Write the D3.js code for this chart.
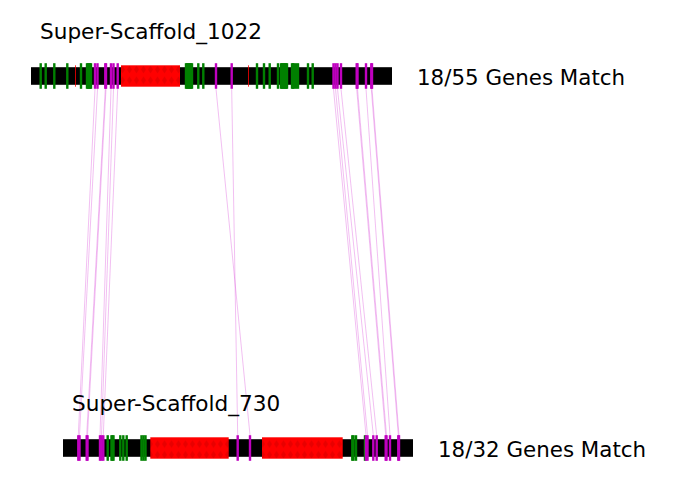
<!DOCTYPE html>
<html>
<head>
<meta charset="utf-8">
<script src="https://cdn.jsdelivr.net/npm/d3@7/dist/d3.min.js"></script>
<style>
  html, body { margin: 0; padding: 0; background: #fff; }
  svg { display: block; }
  text { font-family: "DejaVu Sans", sans-serif; }
</style>
</head>
<body>
<svg id="chart" width="687" height="496"></svg>
<script>
// ---- data (positions in kb along each scaffold) ----
const scaffoldNames = ["Super-Scaffold_1022", "Super-Scaffold_730"];
const scaffoldLengths = [722, 700];
const matchLabels = ["18/55 Genes Match", "18/32 Genes Match"];

// unmatched genes (green)
const topOtherGenes = [19.4, 29.4, 46.6, 72.6, 100, 112, 114, 116, 118, 120,
  310, 312, 314, 316, 318, 320, 322, 334.6, 344.6,
  452, 466, 477.4, 494, 500, 502, 504, 506, 508, 510, 512,
  522, 524, 526, 530, 534, 554, 563.4];
const bottomOtherGenes = [89.4, 97, 99, 101, 114.6, 120.6, 127.4, 157, 161, 165,
  578.6, 581, 586, 604];

// repeat / red regions [start, end]
const topRepeats = [[88.2, 89.2], [180, 298], [434.2, 435.2]];
const bottomRepeats = [[174.6, 331.4], [398, 559.4]];

// matched gene pairs: top position -> bottom position
const matchTop =    [128, 133, 148.6, 150, 160, 165, 173.4, 370, 401.4,
  605, 609, 613, 620, 651.4, 653, 670, 680.6, 682];
const matchBottom = [30.6, 33, 47.4, 49, 74, 77, 80.6, 374, 349.4,
  606, 609, 620.6, 627.4, 645.4, 647, 654, 670.6, 672];

// ---- drawing ----
const svg = d3.select("#chart");

const rows = [
  { name: scaffoldNames[0], len: scaffoldLengths[0], label: matchLabels[0],
    other: topOtherGenes, repeats: topRepeats, matched: matchTop,
    x0: 31, y: 76, titleX: 40, titleY: 39 },
  { name: scaffoldNames[1], len: scaffoldLengths[1], label: matchLabels[1],
    other: bottomOtherGenes, repeats: bottomRepeats, matched: matchBottom,
    x0: 63, y: 448, titleX: 72, titleY: 411 }
];
const pxPerKb = 0.5;
rows.forEach(r => {
  r.scale = d3.scaleLinear().domain([0, r.len]).range([r.x0, r.x0 + r.len * pxPerKb]);
});

const barH = 17.6, tickH = 25.6, repH = 21.4, geneW = 2.4;

// connecting lines
const lineG = svg.append("g");
matchTop.forEach((t, i) => {
  lineG.append("line")
    .attr("x1", rows[0].scale(t))
    .attr("y1", rows[0].y + tickH / 2)
    .attr("x2", rows[1].scale(matchBottom[i]))
    .attr("y2", rows[1].y - tickH / 2)
    .attr("stroke", "#cc00cc")
    .attr("stroke-width", 0.5)
    .attr("stroke-opacity", 0.5);
});

// subtle texture for dense repeat clusters
const defs = svg.append("defs");
const pat = defs.append("pattern")
  .attr("id", "repTex").attr("patternUnits", "userSpaceOnUse")
  .attr("width", 7).attr("height", 10.7);
pat.append("rect").attr("width", 7).attr("height", 10.7).attr("fill", "#ff0000");
pat.append("path").attr("d", "M3.5,1.5 L6,5.35 L3.5,9.2 L1,5.35 Z")
  .attr("fill", "#d40000").attr("opacity", 0.55);

rows.forEach(r => {
  const g = svg.append("g");
  const [a, b] = r.scale.range();
  g.append("rect")
    .attr("x", a).attr("y", r.y - barH / 2)
    .attr("width", b - a).attr("height", barH)
    .attr("fill", "#000");

  g.selectAll("rect.rep").data(r.repeats).join("rect")
    .attr("class", "rep")
    .attr("x", d => r.scale(d[0]))
    .attr("y", r.y - repH / 2)
    .attr("width", d => Math.max(0.8, r.scale(d[1]) - r.scale(d[0])))
    .attr("height", repH)
    .attr("fill", d => (d[1] - d[0]) > 5 ? "url(#repTex)" : "#ff0000");

  g.selectAll("rect.oth").data(r.other).join("rect")
    .attr("class", "oth")
    .attr("x", d => r.scale(d) - geneW / 2)
    .attr("y", r.y - tickH / 2)
    .attr("width", geneW).attr("height", tickH)
    .attr("fill", "#008000");

  g.selectAll("rect.mat").data(r.matched).join("rect")
    .attr("class", "mat")
    .attr("x", d => r.scale(d) - geneW / 2)
    .attr("y", r.y - tickH / 2)
    .attr("width", geneW).attr("height", tickH)
    .attr("fill", "#bf00bf");

  g.append("text")
    .attr("x", r.titleX).attr("y", r.titleY)
    .attr("font-size", 21.6)
    .attr("fill", "#000")
    .text(r.name);

  g.append("text")
    .attr("x", b + 25).attr("y", r.y + 9)
    .attr("font-size", 21.4)
    .attr("fill", "#000")
    .text(r.label);
});
</script>
</body>
</html>
